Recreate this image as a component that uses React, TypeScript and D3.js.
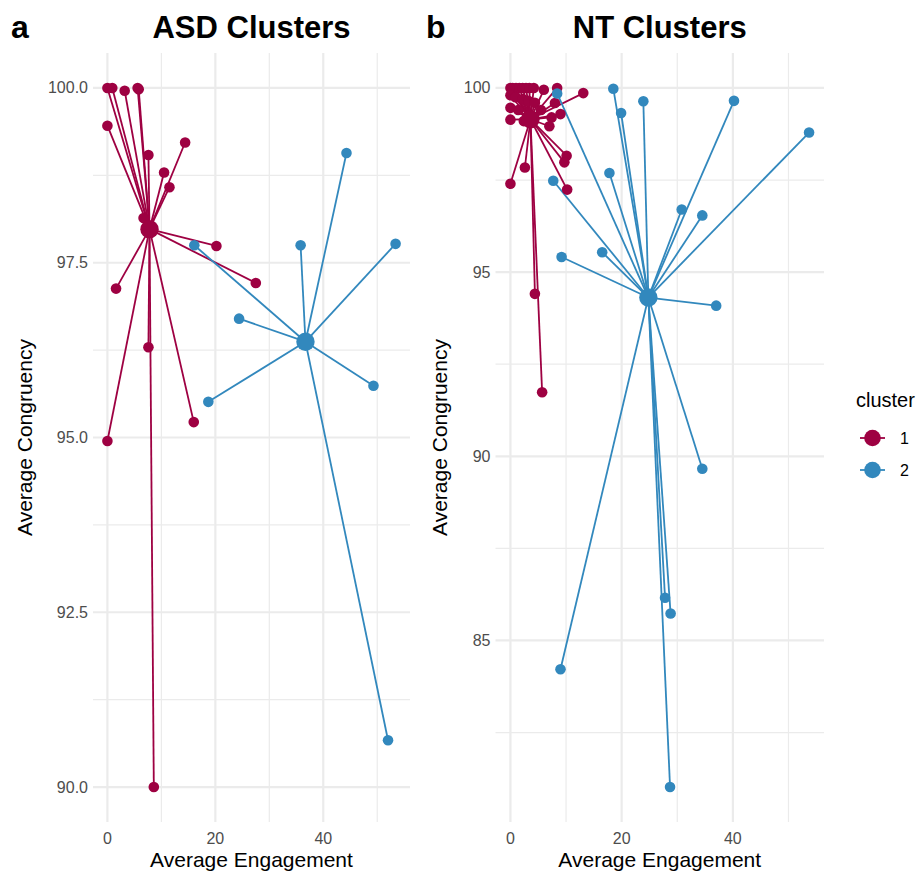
import React from 'react';
import * as d3 from 'd3';

// ASD: cluster points [engagement, congruency]
const asdCluster1 = [
  [0, 100], [0.9, 100], [3.2, 99.96], [5.8, 99.98], [5.6, 100], [0, 99.46],
  [7.6, 99.04], [14.4, 99.22], [10.5, 98.79], [11.5, 98.58], [6.7, 98.14],
  [20.2, 97.74], [27.5, 97.21], [1.6, 97.13], [7.6, 96.29], [16.0, 95.22],
  [0, 94.95], [8.6, 90.0],
];
const asdCluster2 = [
  [16.1, 97.75], [24.4, 96.7], [35.8, 97.75], [44.3, 99.07], [53.4, 97.77],
  [49.3, 95.74], [18.7, 95.51], [52.0, 90.67],
];
const asdCenters = [[7.8, 97.98], [36.7, 96.37]];

// NT
const ntCluster1 = [
  [0, 100], [0.4, 100], [1.0, 100], [1.6, 100], [2.2, 100], [2.8, 100],
  [3.4, 100], [4.2, 100], [8.4, 100], [6.0, 99.95], [13.1, 99.86],
  [0, 99.8], [0.9, 99.75], [2.2, 99.7], [3.2, 99.65], [4.4, 99.6],
  [0, 99.46], [1.4, 99.4], [8.0, 99.59], [9.0, 99.29], [7.4, 99.2],
  [7.0, 98.96], [0, 99.14], [5.5, 99.4], [2.4, 99.1],
  [10.1, 98.16], [9.7, 97.98], [2.6, 97.84], [0, 97.4], [10.2, 97.24],
  [4.4, 94.41], [5.7, 91.74],
];
const ntCluster2 = [
  [8.4, 99.85], [18.5, 99.98], [19.9, 99.32], [23.9, 99.64], [40.2, 99.65],
  [53.7, 98.79], [17.8, 97.69], [7.7, 97.48], [30.8, 96.7], [34.5, 96.54],
  [9.2, 95.41], [16.5, 95.54], [37.0, 94.09], [34.5, 89.66], [9.0, 84.22],
  [27.8, 86.16], [28.8, 85.73], [28.7, 81.02],
];
const ntCenters = [[3.6, 99.15], [24.8, 94.31]];

const xTicks = [0, 20, 40];
const asdYTicks = [90, 92.5, 95, 97.5, 100];
const ntYTicks = [85, 90, 95, 100];
const clusterNames = ['1', '2'];
const colors = ['#9E0142', '#3288BD'];

const FONT = '"Liberation Sans", Arial, Helvetica, sans-serif';
const GRID = '#ebebeb';

function expand(ext: number[]) {
  const pad = (ext[1] - ext[0]) * 0.05;
  return [ext[0] - pad, ext[1] + pad];
}

function minorOf(ticks: number[], domain: number[]) {
  const step = ticks[1] - ticks[0];
  const out: number[] = [];
  for (let i = -1; i < ticks.length; i++) {
    const v = ticks[0] + step * i + step / 2;
    if (v > domain[0] && v < domain[1]) out.push(v);
  }
  return out;
}

function Panel({ groups, centers, yTicks, yFmt, left, right, top, bottom, title, letter, letterX, yTitleX }: any) {
  const all = groups.flat().concat(centers);
  const xDom = expand(d3.extent(all, (d: number[]) => d[0]) as number[]);
  const yDom = expand(d3.extent(all, (d: number[]) => d[1]) as number[]);
  const x = d3.scaleLinear().domain(xDom).range([left, right]);
  const y = d3.scaleLinear().domain(yDom).range([bottom, top]);
  const xMinor = minorOf(xTicks, xDom);
  const yMinor = minorOf(yTicks, yDom);
  const cx = (left + right) / 2;
  const cy = (top + bottom) / 2;
  return (
    <g>
      {xMinor.map((v) => (
        <line key={'xm' + v} x1={x(v)} x2={x(v)} y1={top} y2={bottom} stroke={GRID} strokeWidth={1.2} />
      ))}
      {yMinor.map((v) => (
        <line key={'ym' + v} x1={left} x2={right} y1={y(v)} y2={y(v)} stroke={GRID} strokeWidth={1.2} />
      ))}
      {xTicks.map((v) => (
        <line key={'x' + v} x1={x(v)} x2={x(v)} y1={top} y2={bottom} stroke={GRID} strokeWidth={2.2} />
      ))}
      {yTicks.map((v: number) => (
        <line key={'y' + v} x1={left} x2={right} y1={y(v)} y2={y(v)} stroke={GRID} strokeWidth={2.2} />
      ))}
      {xTicks.map((v) => (
        <text key={'xl' + v} x={x(v)} y={844} textAnchor="middle" fontSize={16} fill="#4d4d4d" fontFamily={FONT}>{v}</text>
      ))}
      {yTicks.map((v: number) => (
        <text key={'yl' + v} x={left - 5} y={y(v) + 5.5} textAnchor="end" fontSize={16} fill="#4d4d4d" fontFamily={FONT}>{yFmt(v)}</text>
      ))}
      <text x={cx} y={867} textAnchor="middle" fontSize={21} fontFamily={FONT}>Average Engagement</text>
      <text transform={`translate(${yTitleX},${cy}) rotate(-90)`} textAnchor="middle" fontSize={21} fontFamily={FONT}>Average Congruency</text>
      <text x={cx} y={38} textAnchor="middle" fontSize={31} fontWeight="bold" fontFamily={FONT}>{title}</text>
      <text x={letterX} y={38} fontSize={32} fontWeight="bold" fontFamily={FONT}>{letter}</text>
      {groups.map((pts: number[][], gi: number) =>
        pts.map((p, i) => (
          <line key={`s${gi}-${i}`} x1={x(centers[gi][0])} y1={y(centers[gi][1])} x2={x(p[0])} y2={y(p[1])}
            stroke={colors[gi]} strokeWidth={1.8} />
        ))
      )}
      {groups.map((pts: number[][], gi: number) => (
        <g key={'g' + gi} fill={colors[gi]}>
          {pts.map((p, i) => (
            <circle key={i} cx={x(p[0])} cy={y(p[1])} r={5.3} />
          ))}
          <circle cx={x(centers[gi][0])} cy={y(centers[gi][1])} r={9.2} />
        </g>
      ))}
    </g>
  );
}

export default function App() {
  return (
    <svg width={921} height={873} style={{ display: 'block', position: 'absolute', left: 0, top: 0, background: '#fff' }}>
      <Panel groups={[asdCluster1, asdCluster2]} centers={asdCenters} yTicks={asdYTicks}
        yFmt={d3.format('.1f')} left={93} right={410} top={53} bottom={822}
        title="ASD Clusters" letter="a" letterX={11} yTitleX={32} />
      <Panel groups={[ntCluster1, ntCluster2]} centers={ntCenters} yTicks={ntYTicks}
        yFmt={d3.format('d')} left={495.5} right={824} top={53} bottom={822}
        title="NT Clusters" letter="b" letterX={426} yTitleX={447} />
      <g fontFamily={FONT}>
        <text x={856} y={407} fontSize={20}>cluster</text>
        {clusterNames.map((c, i) => (
          <g key={c}>
            <line x1={860} x2={885} y1={438 + i * 32} y2={438 + i * 32} stroke={colors[i]} strokeWidth={1.8} />
            <circle cx={872.5} cy={438 + i * 32} r={8.3} fill={colors[i]} />
            <text x={900} y={444 + i * 32} fontSize={16} fill="#000">{c}</text>
          </g>
        ))}
      </g>
    </svg>
  );
}
